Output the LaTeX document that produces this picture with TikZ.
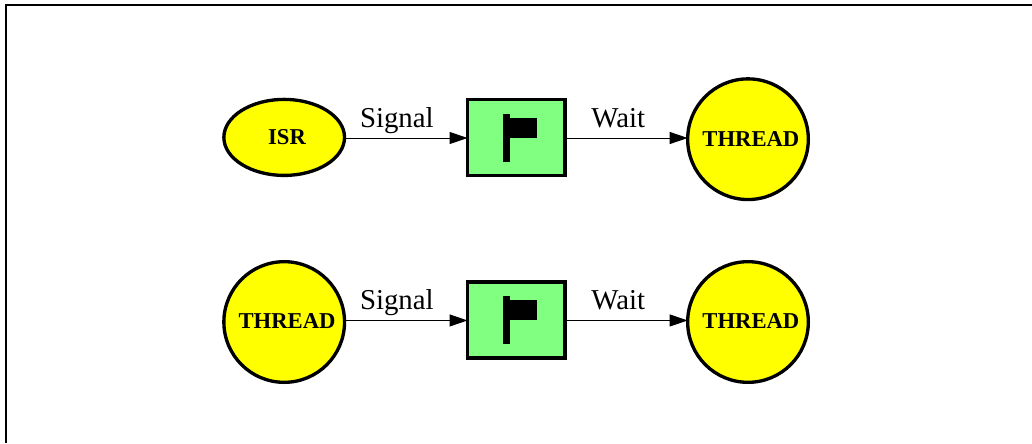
\documentclass[tikz,border=0pt]{standalone}
\usepackage{fontspec}
\setmainfont{Liberation Serif}
\usetikzlibrary{shapes.geometric,arrows.meta}
\definecolor{boxgreen}{RGB}{128,255,128}
\definecolor{nodeyellow}{RGB}{255,255,0}
\newcommand{\offsettext}[2]{\hspace*{4.3pt}\raisebox{#1}{#2}}
\tikzset{
  x=0.75pt,y=-0.75pt,
  every node/.style={inner sep=0pt,outer sep=0pt},
  yellownode/.style={draw=black,line width=2.5pt,fill=nodeyellow,font=\fontsize{17pt}{18pt}\selectfont\bfseries},
  threadnode/.style={yellownode,circle,minimum size=90.5pt},
  isrnode/.style={yellownode,ellipse,minimum width=90.5pt,minimum height=57pt},
  semabox/.style={draw=black,line width=2.5pt,fill=boxgreen,rectangle,minimum width=73pt,minimum height=57pt},
  conn/.style={draw=black,line width=0.75pt,-{Triangle[length=13.5pt,width=9pt,color=black]}},
  edgelabel/.style={anchor=base,font=\fontsize{21.6pt}{24pt}\selectfont,text=black},
  flagpart/.style={fill=black,draw=none},
  framing/.style={draw=black,line width=1.5pt}
}
\begin{document}
\begin{tikzpicture}
\useasboundingbox (0,0) rectangle (1032,443);
\coordinate (f1) at (6,443);
\coordinate (f2) at (6,5);
\coordinate (f3) at (1032,5);
\draw[framing] (f1) -- (f2) -- (f3);

\node[isrnode] (isr) at (284.2,137.4) {\offsettext{-0.7pt}{ISR}};
\node[semabox] (s1) at (516.2,137.4) {};
\node[threadnode] (t1) at (748,139.2) {\offsettext{0.8pt}{THREAD}};
\node[threadnode] (t0) at (284.2,322) {\offsettext{0.8pt}{THREAD}};
\node[semabox] (s2) at (516.2,320) {};
\node[threadnode] (t2) at (748,322) {\offsettext{0.8pt}{THREAD}};

\foreach \b/\d in {s1/-0.45pt,s2/-0.35pt}{
  \fill[flagpart] ([xshift=-9.7pt,yshift=18pt+\d]\b.center) rectangle ([xshift=-4.7pt,yshift=-18pt+\d]\b.center);
  \fill[flagpart] ([xshift=-4.7pt,yshift=15pt+\d]\b.center) rectangle ([xshift=15.3pt,yshift=\d]\b.center);
}

\coordinate (r1) at ([yshift=-0.45pt]s1.center);
\coordinate (r2) at ([yshift=-0.35pt]s2.center);
\draw[conn] (isr.east |- r1) -- (s1.west |- r1);
\draw[conn] (s1.east |- r1) -- (t1.west |- r1);
\draw[conn] (t0.east |- r2) -- (s2.west |- r2);
\draw[conn] (s2.east |- r2) -- (t2.west |- r2);

\node[edgelabel] (l1) at (396.8,127.3) {Signal};
\node[edgelabel] (l2) at (618.3,127.3) {Wait};
\node[edgelabel] (l3) at (396.8,309.8) {Signal};
\node[edgelabel] (l4) at (618.3,309.8) {Wait};
\end{tikzpicture}
\end{document}
